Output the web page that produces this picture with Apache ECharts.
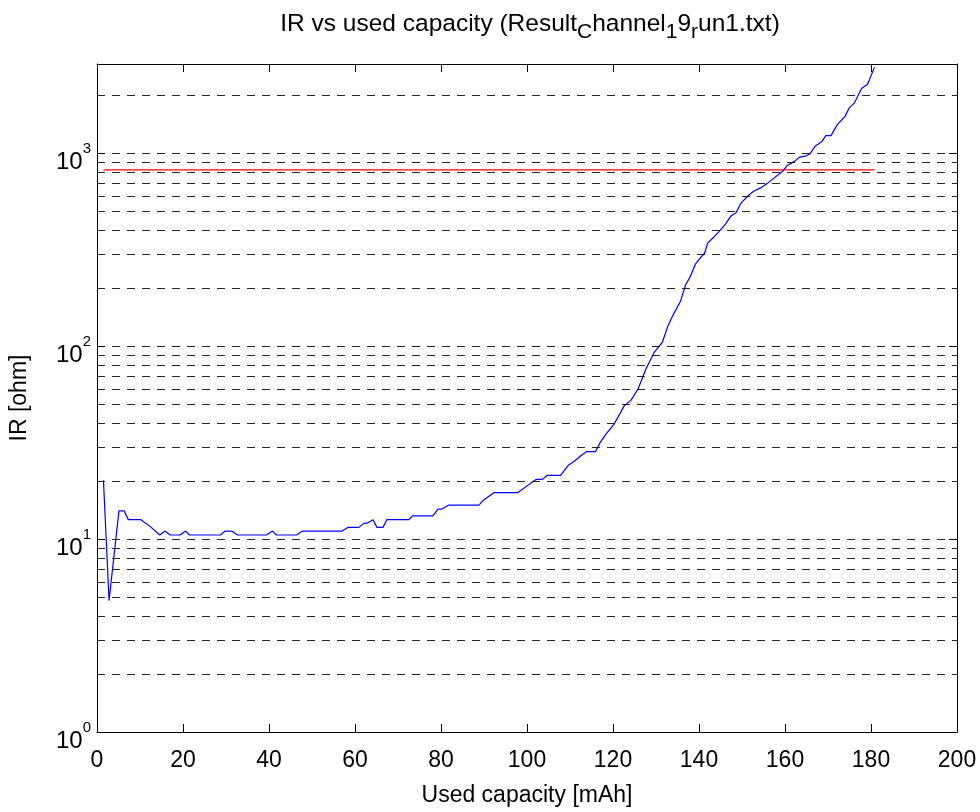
<!DOCTYPE html>
<html>
<head>
<meta charset="utf-8">
<script src="https://cdn.jsdelivr.net/npm/echarts@6/dist/echarts.min.js"></script>
<style>
  html, body { margin: 0; padding: 0; background: #fff; }
  #chart { width: 980px; height: 812px; }
</style>
</head>
<body>
<div id="chart"></div>
<script>
// Used capacity [mAh] for each IR sample
const capacity = [
  1.5, 2.8, 5.1, 6.3, 7.3, 10.2, 12.4, 14.6, 15.8, 17.0, 19.3, 20.6, 21.5, 28.7, 29.8, 31.3,
  32.7, 39.4, 40.8, 41.7, 46.4, 47.8, 57.0, 58.4, 60.9, 62.1, 62.9, 64.2, 65.1, 66.5, 67.4,
  72.5, 73.4, 78.1, 79.3, 80.2, 81.8, 88.8, 90.0, 92.3, 97.8, 100.9, 102.2, 103.6, 104.7,
  107.8, 109.6, 111.0, 112.6, 113.8, 115.9, 117.0, 118.4, 120.3, 122.6, 124.2, 125.8, 127.7,
  129.6, 131.5, 132.7, 134.1, 135.7, 136.9, 138.0, 139.2, 140.3, 141.3, 142.0, 143.4, 144.6,
  146.2, 147.4, 148.6, 149.7, 151.6, 152.7, 154.3, 156.0, 157.5, 159.5, 160.6, 162.2, 163.4,
  164.7, 165.8, 167.0, 168.6, 169.5, 170.7, 172.2, 173.9, 175.0, 176.2, 177.8, 179.2, 180.8
];

// Internal resistance [ohm]
const irValues = [
  20.2, 4.8, 14.0, 14.0, 12.6, 12.6, 11.6, 10.5, 11.0, 10.5, 10.5, 11.0, 10.5, 10.5, 11.0, 11.0,
  10.5, 10.5, 11.0, 10.5, 10.5, 11.0, 11.0, 11.5, 11.5, 12.1, 12.1, 12.6, 11.5, 11.5, 12.6,
  12.6, 13.2, 13.2, 14.3, 14.3, 15.0, 15.0, 16.0, 17.4, 17.4, 19.5, 20.4, 20.4, 21.4,
  21.4, 24.1, 25.3, 27.1, 28.4, 28.4, 31.6, 35.1, 39.6, 49.0, 52.5, 59.8, 76.6,
  93, 105, 126, 147, 171, 208, 230, 267, 287, 303, 342, 367, 391,
  430, 472, 491, 549, 607, 635, 661, 700, 745, 809, 867, 907, 954,
  965, 993, 1088, 1151, 1234, 1234, 1410, 1547, 1724, 1830, 2165, 2275, 2785
];

// IR limit
const thresholdIR = 820;

// Dashed horizontal grid levels (log grid)
const gridLevels = [
  1, 2, 3, 4, 5, 6, 7, 8, 9,
  10, 20, 30, 40, 50, 60, 70, 80, 90,
  100, 200, 300, 400, 500, 600, 700, 800, 900,
  1000, 2000
];

const xTicks = { min: 0, max: 200, interval: 20 };
const yRange = { min: 1, max: 2900 };

const font = '"Liberation Sans", Arial, Helvetica, sans-serif';

const chart = echarts.init(document.getElementById('chart'), null, { renderer: 'canvas' });

const boxLine = { show: true, onZero: false, lineStyle: { color: '#000', width: 1 } };
const inTick = { show: true, inside: true, length: 8, lineStyle: { color: '#000', width: 1 } };

function powerLabel(v) {
  const e = Math.log10(v);
  if (Math.abs(e - Math.round(e)) > 1e-6) return '';
  return '{b|10}{sup|' + Math.round(e) + '}';
}

const option = {
  animation: false,
  backgroundColor: '#fff',
  title: {
    text: '{n|IR vs used capacity (Result}{s|C}{n|hannel}{s|1}{n|9}{s|r}{n|un1.txt)}',
    left: 525,
    textAlign: 'center',
    top: 7,
    textStyle: {
      fontWeight: 'normal',
      rich: {
        n: { fontFamily: font, fontSize: 24.5, fontWeight: 'normal', color: '#000', verticalAlign: 'top', lineHeight: 27 },
        s: { fontFamily: font, fontSize: 21, fontWeight: 'normal', color: '#000', verticalAlign: 'top', lineHeight: 23, padding: [10, 0, 0, 0] }
      }
    }
  },
  grid: { left: 94, right: 23, top: 64, bottom: 69, containLabel: false },
  xAxis: [
    {
      type: 'value', min: xTicks.min, max: xTicks.max, interval: xTicks.interval,
      position: 'bottom',
      name: 'Used capacity [mAh]', nameLocation: 'middle', nameGap: 52,
      nameTextStyle: { fontFamily: font, fontSize: 23, color: '#000' },
      axisLine: boxLine, axisTick: inTick,
      axisLabel: { fontFamily: font, fontSize: 23, color: '#000', margin: 17 },
      splitLine: { show: false }
    },
    {
      type: 'value', min: xTicks.min, max: xTicks.max, interval: xTicks.interval,
      position: 'top',
      axisLine: boxLine, axisTick: inTick,
      axisLabel: { show: false }, splitLine: { show: false }
    }
  ],
  yAxis: [
    {
      type: 'log', logBase: 10, min: yRange.min, max: yRange.max,
      position: 'left',
      name: 'IR [ohm]', nameLocation: 'middle', nameGap: 66, nameRotate: 90,
      nameTextStyle: { fontFamily: font, fontSize: 23, color: '#000' },
      axisLine: boxLine, axisTick: inTick,
      axisLabel: {
        formatter: powerLabel, margin: 6,
        rich: {
          b: { fontFamily: font, fontSize: 24, color: '#000', verticalAlign: 'top', lineHeight: 24, padding: [9, 0, 9, 0] },
          sup: { fontFamily: font, fontSize: 15, color: '#000', verticalAlign: 'top', lineHeight: 16 }
        }
      },
      splitLine: { show: false }
    },
    {
      type: 'log', logBase: 10, min: yRange.min, max: yRange.max,
      position: 'right',
      axisLine: boxLine, axisTick: inTick,
      axisLabel: { show: false }, splitLine: { show: false }
    }
  ],
  series: [
    {
      name: 'grid',
      type: 'line',
      data: [],
      z: 1,
      silent: true,
      markLine: {
        silent: true,
        symbol: ['none', 'none'],
        label: { show: false },
        emphasis: { disabled: true },
        lineStyle: { color: '#000', width: 1, type: [8, 7], opacity: 0.85 },
        data: gridLevels.map(v => ({ yAxis: v }))
      }
    },
    {
      name: 'limit',
      type: 'line',
      z: 3,
      showSymbol: false,
      silent: true,
      lineStyle: { color: '#ff0000', width: 1.3 },
      data: [[capacity[0], thresholdIR], [capacity[capacity.length - 1], thresholdIR]]
    },
    {
      name: 'IR',
      type: 'line',
      z: 4,
      showSymbol: false,
      silent: true,
      lineStyle: { color: '#0000ff', width: 1.2 },
      data: capacity.map((c, i) => [c, irValues[i]])
    }
  ]
};

chart.setOption(option);
</script>
</body>
</html>
